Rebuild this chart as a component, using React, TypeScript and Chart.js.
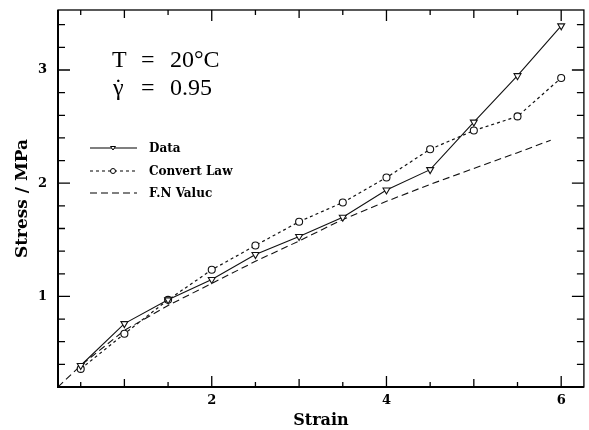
import React, { useEffect, useRef } from "react";
import { Chart, registerables } from "chart.js";

Chart.register(...registerables);

// ---- data ----
const strain = [0.5, 1, 1.5, 2, 2.5, 3, 3.5, 4, 4.5, 5, 5.5, 6];
const dataStress = [0.39, 0.76, 0.97, 1.15, 1.37, 1.53, 1.7, 1.94, 2.12, 2.54, 2.95, 3.39];
const convertStress = [0.36, 0.67, 0.97, 1.235, 1.45, 1.66, 1.83, 2.05, 2.3, 2.465, 2.59, 2.93];
const fnStrain = [0.24, 0.5, 1, 1.5, 2, 2.5, 3, 3.5, 4, 4.5, 5, 5.5, 5.88];
const fnStress = [0.2, 0.39, 0.7, 0.92, 1.115, 1.31, 1.49, 1.68, 1.84, 1.99, 2.13, 2.27, 2.38];

const seriesLabels = ["Data", "Convert Law", "F.N Valuc"];

// ---- axes ----
const xMin = 0.24;
const xMax = 6.26;
const yMin = 0.2;
const yMax = 3.53;
const xTicks = [0.5, 1, 1.5, 2, 2.5, 3, 3.5, 4, 4.5, 5, 5.5, 6];
const xLabelTicks = [2, 4, 6];
const yTicks = [0.4, 0.6, 0.8, 1, 1.2, 1.4, 1.6, 1.8, 2, 2.2, 2.4, 2.6, 2.8, 3, 3.2, 3.4];
const yLabelTicks = [1, 2, 3];
const xTitle = "Strain";
const yTitle = "Stress / MPa";
const annotLine1 = ["T", "=", "20°C"];
const annotLine2 = ["γ", "=", "0.95"];
const gammaDot = "˙";

const BOLD = '"DejaVu Serif"';
const SERIF = '"Liberation Serif"';

const framePlugin = {
  id: "framePlugin",
  afterDatasetsDraw(chart: any) {
    const { ctx, chartArea: a, scales } = chart;
    const x = scales.x;
    const y = scales.y;
    ctx.save();
    ctx.strokeStyle = "#000";
    ctx.lineWidth = 1.3;
    ctx.strokeRect(a.left, a.top, a.right - a.left, a.bottom - a.top);
    ctx.lineWidth = 2;
    ctx.beginPath();
    ctx.moveTo(a.left, a.top);
    ctx.lineTo(a.left, a.bottom);
    ctx.lineTo(a.right, a.bottom);
    ctx.stroke();

    ctx.lineWidth = 1.3;
    xTicks.forEach((v) => {
      const px = x.getPixelForValue(v);
      const len = Number.isInteger(v) ? (v % 2 === 0 ? 11 : 8) : 5;
      ctx.beginPath();
      ctx.moveTo(px, a.bottom);
      ctx.lineTo(px, a.bottom - len);
      ctx.moveTo(px, a.top);
      ctx.lineTo(px, a.top + len);
      ctx.stroke();
    });
    yTicks.forEach((v) => {
      const py = y.getPixelForValue(v);
      const major = Math.abs(v - Math.round(v)) < 1e-6;
      const len = major ? 12 : 7;
      ctx.beginPath();
      ctx.moveTo(a.left, py);
      ctx.lineTo(a.left + len, py);
      ctx.moveTo(a.right, py);
      ctx.lineTo(a.right - len, py);
      ctx.stroke();
    });
    ctx.restore();
  },
  afterDraw(chart: any) {
    const { ctx } = chart;
    ctx.save();
    // annotation
    ctx.fillStyle = "#000";
    ctx.font = `24px ${SERIF}`;
    ctx.textBaseline = "alphabetic";
    ctx.textAlign = "left";
    const cols = [112, 141, 170];
    annotLine1.forEach((t, i) => ctx.fillText(t, cols[i], 67));
    annotLine2.forEach((t, i) => ctx.fillText(t, cols[i] + (i === 0 ? 1 : 0), 95));
    const gw = ctx.measureText(annotLine2[0]).width;
    ctx.textAlign = "center";
    ctx.fillText(gammaDot, cols[0] + 1 + gw / 2, 95);
    ctx.textAlign = "left";

    // legend
    const rows = [148, 171, 193];
    const ds = chart.data.datasets;
    ds.forEach((d: any, i: number) => {
      const ry = rows[i];
      ctx.save();
      ctx.strokeStyle = "#000";
      ctx.lineWidth = d.borderWidth;
      ctx.setLineDash(d.borderDash || []);
      ctx.beginPath();
      ctx.moveTo(90, ry);
      ctx.lineTo(137, ry);
      ctx.stroke();
      ctx.setLineDash([]);
      if (d.pointRadius > 0) {
        ctx.fillStyle = "#fff";
        ctx.lineWidth = 1;
        ctx.beginPath();
        if (d.pointStyle === "circle") {
          ctx.arc(113, ry, 2.5, 0, Math.PI * 2);
        } else {
          ctx.moveTo(110.5, ry - 1.5);
          ctx.lineTo(115.5, ry - 1.5);
          ctx.lineTo(113, ry + 2);
          ctx.closePath();
        }
        ctx.fill();
        ctx.stroke();
      }
      ctx.restore();
      ctx.fillStyle = "#000";
      ctx.font = `bold 12px ${BOLD}`;
      ctx.textBaseline = "middle";
      ctx.fillText(d.label, 149, ry + 1);
    });
    ctx.restore();
  },
};

export default function App() {
  const ref = useRef<HTMLCanvasElement | null>(null);

  useEffect(() => {
    if (!ref.current) return;
    const chart = new Chart(ref.current, {
      type: "line",
      data: {
        datasets: [
          {
            label: seriesLabels[0],
            data: strain.map((s, i) => ({ x: s, y: dataStress[i] })),
            borderColor: "#111",
            borderWidth: 1.1,
            pointStyle: "triangle",
            rotation: 180,
            pointRadius: 4,
            pointBorderWidth: 1.1,
            pointBackgroundColor: "#fff",
            pointBorderColor: "#111",
            tension: 0,
          },
          {
            label: seriesLabels[1],
            data: strain.map((s, i) => ({ x: s, y: convertStress[i] })),
            borderColor: "#111",
            borderWidth: 1.2,
            borderDash: [3, 3],
            pointStyle: "circle",
            pointRadius: 3.5,
            pointBorderWidth: 1.1,
            pointBackgroundColor: "#fff",
            pointBorderColor: "#111",
            tension: 0,
          },
          {
            label: seriesLabels[2],
            data: fnStrain.map((s, i) => ({ x: s, y: fnStress[i] })),
            borderColor: "#111",
            borderWidth: 1.1,
            borderDash: [7, 4],
            pointRadius: 0,
            tension: 0,
          },
        ],
      },
      options: {
        responsive: false,
        animation: false,
        layout: { padding: { top: 10, right: 4, left: 0, bottom: 0 } },
        plugins: {
          legend: { display: false },
          tooltip: { enabled: false },
        },
        scales: {
          x: {
            type: "linear",
            min: xMin,
            max: xMax,
            afterBuildTicks: (scale: any) => {
              scale.ticks = xTicks.map((v) => ({ value: v }));
            },
            afterFit: (scale: any) => {
              scale.height = 43;
              scale.paddingLeft = 0;
              scale.paddingRight = 0;
            },
            grid: { display: false, drawTicks: false },
            border: { display: false },
            ticks: {
              padding: 6,
              autoSkip: false,
              maxRotation: 0,
              color: "#000",
              font: { family: BOLD, size: 13, weight: "bold" },
              callback: (v: any) => (xLabelTicks.includes(Number(v)) ? String(v) : ""),
            },
            title: {
              display: true,
              text: xTitle,
              color: "#000",
              font: { family: BOLD, size: 16, weight: "bold", lineHeight: 1 },
              padding: { top: 0, bottom: 1 },
            },
          },
          y: {
            type: "linear",
            min: yMin,
            max: yMax,
            afterBuildTicks: (scale: any) => {
              scale.ticks = yTicks.map((v) => ({ value: v }));
            },
            afterFit: (scale: any) => {
              scale.width = 58;
              scale.paddingTop = 0;
              scale.paddingBottom = 0;
            },
            grid: { display: false, drawTicks: false },
            border: { display: false },
            ticks: {
              padding: 11,
              autoSkip: false,
              color: "#000",
              font: { family: BOLD, size: 13, weight: "bold" },
              callback: (v: any) => (yLabelTicks.includes(Number(v)) ? String(v) : ""),
            },
            title: {
              display: true,
              text: yTitle,
              color: "#000",
              font: { family: BOLD, size: 17, weight: "bold", lineHeight: 1.2 },
              padding: { top: 12, bottom: 0 },
            },
          },
        },
      },
      plugins: [framePlugin],
    } as any);
    return () => chart.destroy();
  }, []);

  return (
    <div style={{ position: "fixed", left: 0, top: 0, width: 589, height: 430, background: "#fff" }}>
      <canvas ref={ref} width={589} height={430} />
    </div>
  );
}
